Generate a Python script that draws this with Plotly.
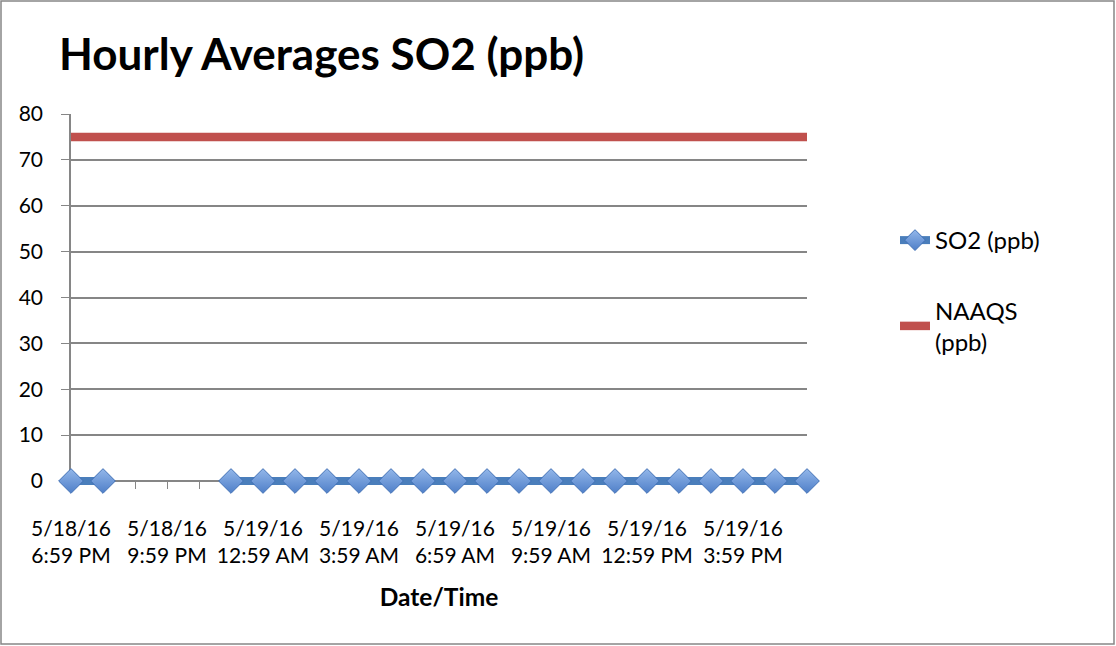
import plotly.graph_objects as go

categories = [
    "5/18/16 6:59 PM", "5/18/16 7:59 PM", "5/18/16 8:59 PM", "5/18/16 9:59 PM",
    "5/18/16 10:59 PM", "5/18/16 11:59 PM", "5/19/16 12:59 AM", "5/19/16 1:59 AM",
    "5/19/16 2:59 AM", "5/19/16 3:59 AM", "5/19/16 4:59 AM", "5/19/16 5:59 AM",
    "5/19/16 6:59 AM", "5/19/16 7:59 AM", "5/19/16 8:59 AM", "5/19/16 9:59 AM",
    "5/19/16 10:59 AM", "5/19/16 11:59 AM", "5/19/16 12:59 PM", "5/19/16 1:59 PM",
    "5/19/16 2:59 PM", "5/19/16 3:59 PM", "5/19/16 4:59 PM", "5/19/16 5:59 PM",
]
so2_ppb = [0, 0, None, None, None, 0, 0, 0, 0, 0, 0, 0,
           0, 0, 0, 0, 0, 0, 0, 0, 0, 0, 0, 0]
naaqs_ppb = [75] * 24
tick_labels = [c.replace(" ", "<br>", 1) if i % 3 == 0 else "" for i, c in enumerate(categories)]

FONT = "Lato, 'Open Sans', sans-serif"
Y_MAX = 80

fig = go.Figure()
fig.add_trace(go.Scatter(
    x=categories, y=naaqs_ppb, name="NAAQS<br>(ppb)", mode="lines",
    line=dict(color="#C0504D", width=8.5), legendgroup="b", legendrank=2,
))
fig.add_trace(go.Scatter(
    x=categories, y=so2_ppb, name="SO2 (ppb)", mode="lines+markers",
    line=dict(color="#4A7EBB", width=8),
    marker=dict(symbol="diamond", size=19, color="#93B7EA",
                gradient=dict(type="vertical", color="#4F7FC8"),
                line=dict(color="#3F6FB5", width=1)),
    connectgaps=False, legendgroup="a", cliponaxis=False, legendrank=1,
))

W, H = 1116, 646
L, R, T, Z = 71, 807, 114, 481   # plot left/right/top, pixel row of y=0
EXTRA = 5                        # plot area extends a bit below y=0 so the 0-line isn't clipped
B = Z + EXTRA
pw = R - L
ppu = (Z - T) / Y_MAX
y_lo = -EXTRA / ppu
ph = B - T

def px(x):
    return (x - L) / pw

def py(y):
    return (B - y) / ph

fig.update_layout(
    width=W, height=H,
    margin=dict(l=L, r=W - R, t=T, b=H - B),
    paper_bgcolor="white", plot_bgcolor="white",
    font=dict(family=FONT, size=21, color="black"),
    title=dict(text="<b>Hourly Averages SO2 (ppb)</b>", x=59 / W, xanchor="left",
               y=1 - 55 / H, yanchor="middle",
               font=dict(family=FONT, size=44, color="black")),
    showlegend=True,
    legend=dict(x=px(895), y=py(218), xanchor="left", yanchor="top",
                font=dict(family=FONT, size=24, color="black"),
                tracegroupgap=36, itemwidth=30, bgcolor="rgba(0,0,0,0)",
                traceorder="grouped"),
    xaxis=dict(
        type="category", range=[0, len(categories) - 1],
        anchor="free", position=py(Z),
        tickmode="array", tickvals=categories, ticktext=tick_labels,
        ticks="outside", ticklen=7, tickcolor="#868686",
        showline=True, linecolor="#868686", linewidth=1.5,
        showgrid=False, tickangle=0, ticklabelstandoff=22,
        layer="below traces",
        title=dict(text="<b>Date/Time</b>", standoff=22,
                   font=dict(family=FONT, size=24.5, color="black")),
    ),
    yaxis=dict(
        range=[y_lo, Y_MAX], dtick=10, tick0=0,
        showgrid=True, gridcolor="#868686", gridwidth=1.5,
        ticks="outside", ticklen=8, tickcolor="#868686",
        showline=True, linecolor="#868686", linewidth=1.5,
        zeroline=False, ticklabelstandoff=14, layer="below traces",
    ),
    shapes=[dict(type="rect", xref="paper", yref="paper",
                 x0=px(1), x1=px(1114), y0=py(644), y1=py(1),
                 line=dict(color="#868686", width=1.5), fillcolor="rgba(0,0,0,0)",
                 layer="below")],
)

fig.write_html("out.html", config={"displayModeBar": False},
               post_script="document.body.style.margin='0';document.body.style.overflow='hidden';")
